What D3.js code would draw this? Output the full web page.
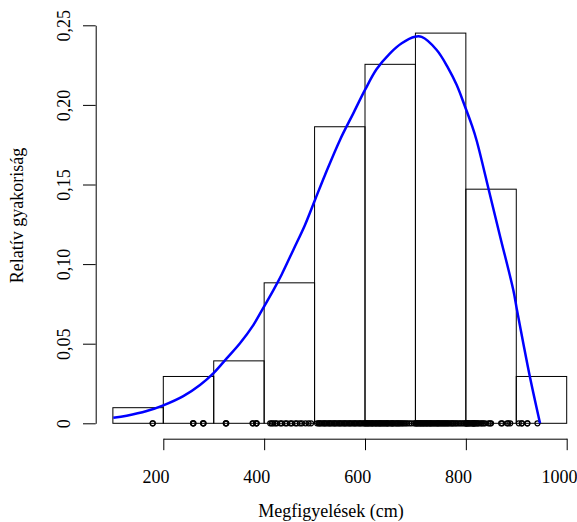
<!DOCTYPE html>
<html>
<head>
<meta charset="utf-8">
<script src="https://cdn.jsdelivr.net/npm/d3@7"></script>
</head>
<body style="margin:0">
<svg id="chart" width="577" height="522"></svg>
<script>
// ---- data ----
const binEdges = [100, 200, 300, 400, 500, 600, 700, 800, 900, 1000];
const binCounts = [2, 6, 8, 18, 38, 46, 50, 30, 6];
const totalN = 204;

const xTicks = [200, 400, 600, 800, 1000];
const yTicks = [0, 0.05, 0.10, 0.15, 0.20, 0.25];
const yTickLabels = ["0", "0,05", "0,10", "0,15", "0,20", "0,25"];

// density curve (x, relative frequency density)
const densX = [100.8, 127.4, 167.1, 200, 239.7, 272.8, 299.2, 325.7, 352.1, 378.5, 398.3, 418.1, 434.8, 457.8, 481, 500.8, 520.7, 550.4, 576.8, 600, 623.2, 649.6, 672.8, 699.2, 712.4, 742.2, 765.2, 781.9, 798.3, 811.6, 821.5, 847.9, 867.7, 894.1, 900.8, 913.9, 927.2, 947.1];
const densY = [0.0035, 0.0048, 0.0077, 0.0113, 0.0171, 0.0241, 0.0314, 0.0408, 0.0503, 0.0617, 0.0725, 0.0835, 0.0935, 0.1089, 0.1246, 0.1403, 0.1560, 0.1780, 0.1947, 0.2094, 0.2225, 0.2324, 0.2387, 0.2428, 0.2427, 0.2345, 0.2230, 0.2125, 0.1990, 0.1875, 0.1775, 0.1434, 0.1177, 0.0837, 0.0722, 0.0503, 0.0289, 0.0];

// observations (rug)
const observations = [
  179, 179,
  259, 259, 260, 279, 279, 280,
  324, 324, 325, 377, 378, 384, 385, 385,
  412, 415, 418, 422, 425, 432, 435, 442, 445, 452, 455, 462, 465, 471, 475, 482, 488, 493,
  505, 508, 510, 512, 515, 518, 520, 522, 525, 528, 530, 532, 535, 538, 540, 542, 545, 548, 550, 552,
  555, 558, 560, 562, 565, 568, 570, 572, 575, 578, 580, 582, 585, 588, 590, 592, 595, 598,
  600, 601, 603, 605, 606, 608, 610, 612, 614, 615, 617, 620, 621, 623, 625, 627, 629, 630, 632, 634,
  636, 638, 640, 642, 644, 645, 647, 650, 652, 654, 655, 657, 660, 662, 664, 666, 668, 670, 673, 675,
  678, 681, 684, 688, 692, 697,
  700, 701, 703, 704, 706, 708, 710, 711, 713, 715, 716, 718, 720, 722, 723, 725, 727, 729, 730, 732,
  734, 736, 738, 740, 742, 744, 745, 747, 749, 751, 753, 755, 757, 759, 761, 763, 765, 767, 770, 772,
  774, 776, 779, 781, 784, 787, 790, 793, 796, 799,
  800, 801, 802, 803, 805, 806, 808, 810, 812, 814, 815, 815, 817, 818, 820, 822, 824, 826, 830, 832,
  835, 838, 845, 848, 850, 870, 872, 882, 884, 888,
  905, 911, 911, 922, 922, 942
];

const xLabel = "Megfigyelések (cm)";
const yLabel = "Relatív gyakoriság";

// ---- drawing ----
const FONT = '"Liberation Serif", monospace';
const ctx = document.createElement("canvas").getContext("2d");
ctx.font = '18px "Liberation Serif", monospace';
ctx.measureText(xLabel);
ctx.measureText(yLabel);

const svg = d3.select("#chart");
svg.append("rect").attr("width", 577).attr("height", 522).attr("fill", "#fff");

const x = d3.scaleLinear().domain([200, 1000]).range([163.3, 566.7]);
const y = d3.scaleLinear().domain([0, 0.25]).range([423.3, 25.3]);

const bins = binCounts.map((c, i) => ({ x0: binEdges[i], x1: binEdges[i + 1], v: c / totalN }));

// histogram bars
svg.append("g").selectAll("rect").data(bins).join("rect")
  .attr("x", d => x(d.x0))
  .attr("y", d => y(d.v))
  .attr("width", d => x(d.x1) - x(d.x0))
  .attr("height", d => y(0) - y(d.v))
  .attr("fill", "none")
  .attr("stroke", "#000")
  .attr("stroke-width", 1);

// rug points
svg.append("g").selectAll("circle").data(observations).join("circle")
  .attr("cx", d => x(d))
  .attr("cy", y(0))
  .attr("r", 2.5)
  .attr("fill", "none")
  .attr("stroke", "#000")
  .attr("stroke-width", 1.2);

// density curve
const dens = densX.map((v, i) => [v, densY[i]]);
svg.append("path")
  .datum(dens)
  .attr("fill", "none")
  .attr("stroke", "#0000ff")
  .attr("stroke-width", 2.5)
  .attr("d", d3.line().x(d => x(d[0])).y(d => y(d[1])).curve(d3.curveCatmullRom));

// x axis
const xAxis = svg.append("g")
  .attr("transform", "translate(0,438.7)")
  .call(d3.axisBottom(x).tickValues(xTicks).tickFormat(d3.format("d")).tickSize(11.5).tickPadding(0).tickSizeOuter(0));
xAxis.attr("font-family", null).attr("font-size", null);
xAxis.select(".domain").attr("stroke", "#000").attr("stroke-width", 1);
xAxis.selectAll(".tick line").attr("stroke", "#000");
xAxis.selectAll(".tick text")
  .attr("x", -7.8).attr("y", 44.6).attr("dy", 0)
  .attr("fill", "#000")
  .attr("font-size", 18)
  .style("font-family", FONT);

// y axis
const yAxis = svg.append("g")
  .attr("transform", "translate(95.7,0)")
  .call(d3.axisLeft(y).tickValues(yTicks).tickFormat((d, i) => yTickLabels[i]).tickSize(12.7).tickSizeOuter(0));
yAxis.attr("font-family", null).attr("font-size", null);
yAxis.select(".domain").attr("stroke", "#000").attr("stroke-width", 1);
yAxis.selectAll(".tick line").attr("stroke", "#000");
yAxis.selectAll(".tick text")
  .attr("transform", "rotate(-90)")
  .attr("x", 0).attr("y", -25.4).attr("dy", 0)
  .attr("text-anchor", "middle")
  .attr("fill", "#000")
  .attr("font-size", 18)
  .style("font-family", FONT);

// axis titles
svg.append("text")
  .attr("x", 258.3).attr("y", 516.5)
  .attr("text-anchor", "start")
  .attr("font-size", 18)
  .style("font-family", FONT)
  .text(xLabel);

svg.append("text")
  .attr("transform", "translate(23.3,283.3) rotate(-90)")
  .attr("text-anchor", "start")
  .attr("font-size", 18)
  .style("font-family", FONT)
  .text(yLabel);
</script>
</body>
</html>
